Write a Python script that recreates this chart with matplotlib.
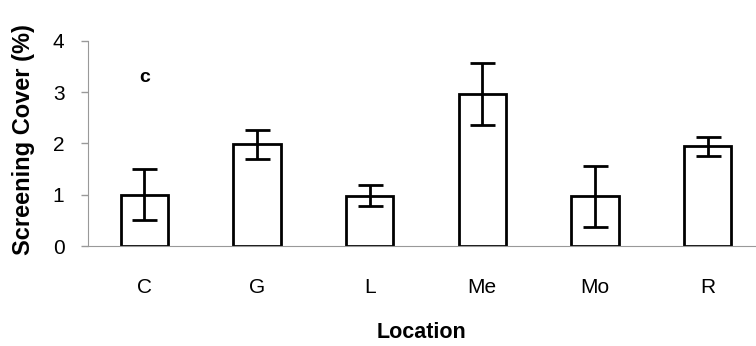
import numpy as np
import matplotlib.pyplot as plt

plt.rcParams['font.family'] = ['Liberation Sans', 'DejaVu Sans']

locations = ['C', 'G', 'L', 'Me', 'Mo', 'R']
cover = [1.0, 1.98, 0.98, 2.96, 0.97, 1.94]
cover_err = [0.5, 0.29, 0.2, 0.6, 0.59, 0.19]

fig = plt.figure(figsize=(7.56, 3.46), dpi=100)
ax = fig.add_axes([0.1164, 0.289, 0.8836, 0.593])

x = np.arange(len(locations))
ax.bar(x, cover, width=0.42, color='white', edgecolor='black', linewidth=2,
       yerr=cover_err, error_kw=dict(ecolor='black', elinewidth=2, capsize=9, capthick=2))

ax.set_xlim(-0.5, 5.43)
ax.set_ylim(0, 4)
ax.set_yticks([0, 1, 2, 3, 4])
ax.set_xticks(x)
ax.set_xticklabels(locations)
ax.tick_params(axis='x', length=0, pad=23, labelsize=15)
ax.tick_params(axis='y', length=5, color='#999999', width=1, direction='out', pad=12, labelsize=15)

ax.spines['top'].set_visible(False)
ax.spines['right'].set_visible(False)
ax.spines['left'].set_color('#999999')
ax.spines['bottom'].set_color('#999999')

ax.set_xlabel('Location', fontsize=15.5, fontweight='bold', labelpad=18)
ax.set_ylabel('Screening Cover (%)', fontsize=17, fontweight='bold')
ax.yaxis.set_label_coords(-0.0795, 0.52)

ax.text(0, 3.28, 'c', fontsize=14, fontweight='bold', ha='center', va='center')

plt.savefig('out.png', dpi=100)
plt.close()
